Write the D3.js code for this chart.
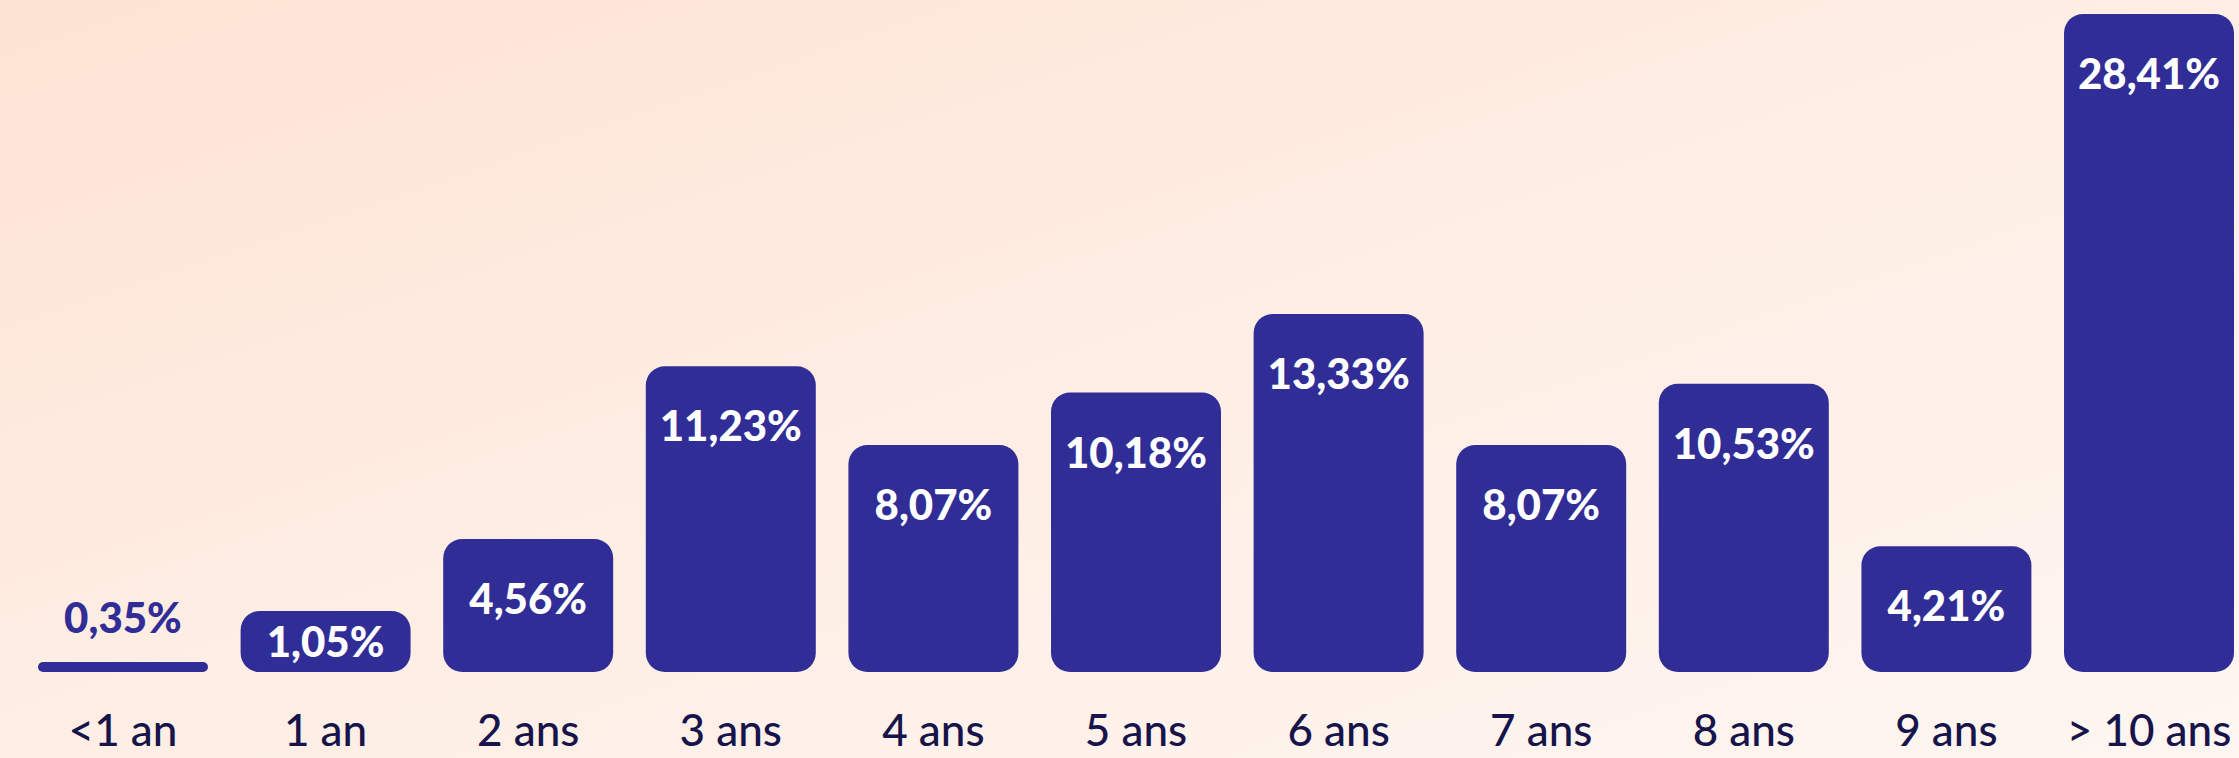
<!DOCTYPE html>
<html>
<head>
<meta charset="utf-8">
<script src="https://cdn.jsdelivr.net/npm/d3@7"></script>
<style>
  html, body { margin: 0; padding: 0; }
  body {
    width: 2239px; height: 758px; overflow: hidden;
    background: linear-gradient(to bottom right, #fde3d4 0%, #feede3 45%, #fef6f1 100%);
  }
  #chart { display: block; }
</style>
</head>
<body>
<svg id="chart" width="2239" height="758"></svg>
<script>
// data
var categories = ['<1 an', '1 an', '2 ans', '3 ans', '4 ans', '5 ans', '6 ans', '7 ans', '8 ans', '9 ans', '> 10 ans'];
var values = [0.35, 1.05, 4.56, 11.23, 8.07, 10.18, 13.33, 8.07, 10.53, 4.21, 28.41];
var valueLabels = ['0,35%', '1,05%', '4,56%', '11,23%', '8,07%', '10,18%', '13,33%', '8,07%', '10,53%', '4,21%', '28,41%'];

var margin = { left: 38, right: 5 };
var baseY = 672;
var barColor = '#312d97';

var svg = d3.select('#chart');
var width = +svg.attr('width');

var xScale = d3.scaleBand()
  .domain(categories)
  .range([margin.left, width - margin.right])
  .paddingInner(0.161)
  .paddingOuter(0);

// the bars in the original are not drawn to a single linear scale,
// so a piecewise linear scale is used for the bar heights
var hScale = d3.scaleLinear()
  .domain([0.35, 1.05, 4.56, 8.07, 13.33, 28.41])
  .range([10, 61, 133, 227, 358, 658]);

var data = categories.map(function(c, i) {
  return { cat: c, value: values[i], label: valueLabels[i] };
});

var g = svg.append('g');

g.selectAll('rect.bar')
  .data(data)
  .enter()
  .append('rect')
  .attr('class', 'bar')
  .attr('x', d => xScale(d.cat))
  .attr('y', d => baseY - hScale(d.value))
  .attr('width', xScale.bandwidth())
  .attr('height', d => hScale(d.value))
  .attr('rx', d => Math.min(19, hScale(d.value) / 2))
  .attr('ry', d => Math.min(19, hScale(d.value) / 2))
  .style('fill', barColor);

// value labels: inside the bar near its top, above the bar when it is too thin
g.selectAll('text.value')
  .data(data)
  .enter()
  .append('text')
  .attr('class', 'value')
  .attr('x', d => xScale(d.cat) + xScale.bandwidth() / 2)
  .attr('y', function(d) {
    var h = hScale(d.value);
    var top = baseY - h;
    if (d.value < 1) return top - 44;
    return Math.min(top + 60, top + h / 2);
  })
  .attr('dy', '0.36em')
  .attr('text-anchor', 'middle')
  .style('font-family', 'Lato, "Noto Sans", sans-serif')
  .style('font-weight', '900')
  .style('font-size', '42px')
  .style('fill', d => d.value < 1 ? barColor : '#ffffff')
  .text(d => d.label);

// category labels under the bars
g.append('g')
  .attr('transform', 'translate(0,' + baseY + ')')
  .call(d3.axisBottom(xScale).tickSize(0).tickPadding(0))
  .call(function(ax) { ax.select('.domain').remove(); })
  .selectAll('text')
  .attr('y', 74)
  .attr('dy', 0)
  .style('font-family', 'Lato, "Noto Sans", sans-serif')
  .style('font-weight', '500')
  .style('font-size', '44px')
  .style('fill', '#17144b');
</script>
</body>
</html>
